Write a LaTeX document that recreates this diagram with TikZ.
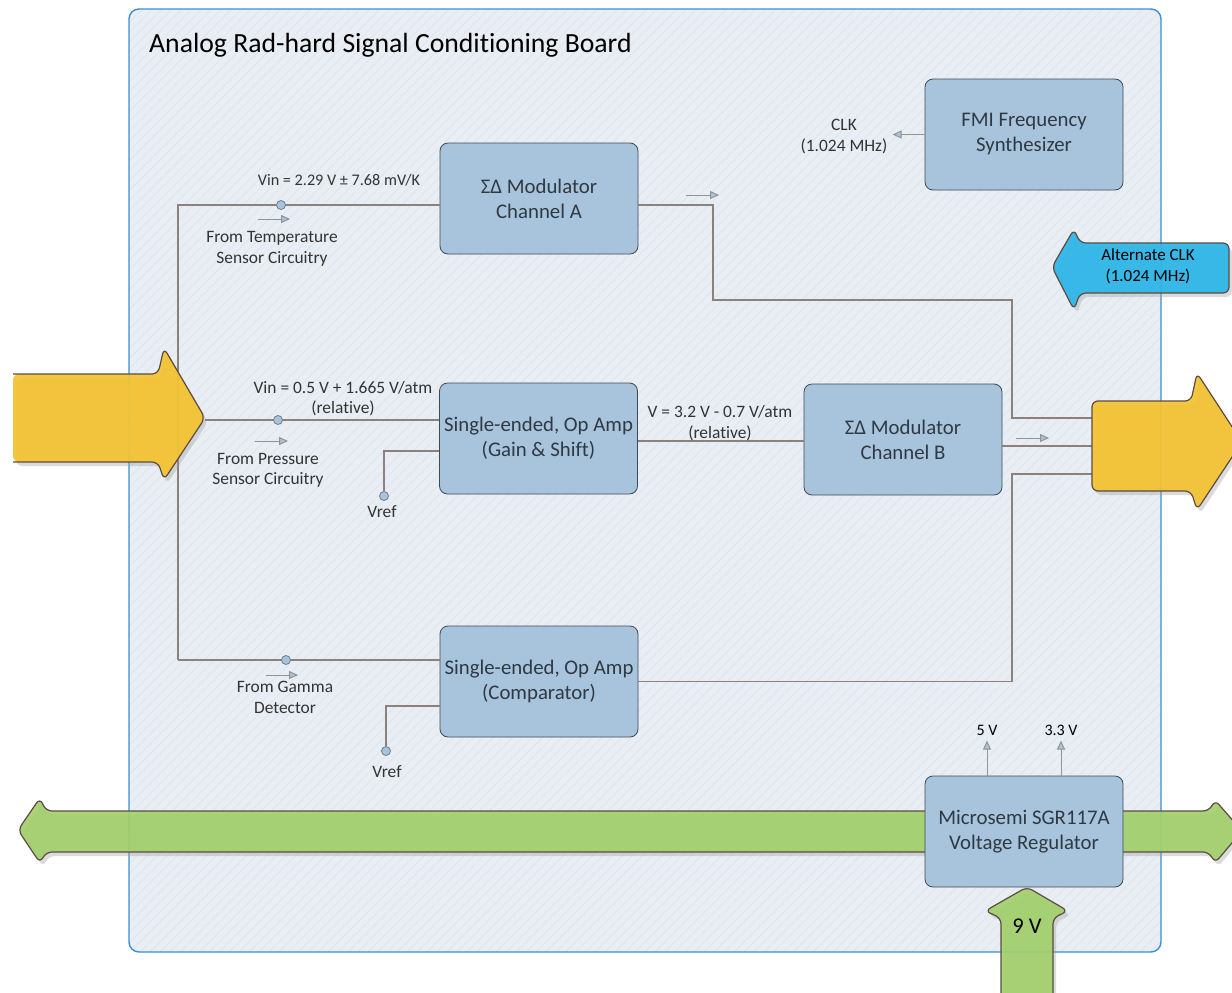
\documentclass[tikz,border=0pt]{standalone}
\usepackage{fontspec}
\setmainfont{Carlito}[Ligatures=NoCommon]
\usetikzlibrary{arrows.meta,patterns.meta,calc}
\definecolor{boardbg}{HTML}{E9EEF5}
\definecolor{hatchc}{HTML}{DDE4ED}
\definecolor{boardln}{HTML}{3A8FD3}
\definecolor{blkfill}{HTML}{A8C4DC}
\definecolor{blkline}{HTML}{3F4A55}
\definecolor{blktext}{HTML}{2F3943}
\definecolor{wirec}{HTML}{8E817C}
\definecolor{txt}{HTML}{333333}
\definecolor{yel}{HTML}{F5C330}
\definecolor{arrline}{HTML}{5C4B42}
\definecolor{cyanA}{HTML}{2BB6E9}
\definecolor{grn}{HTML}{A2D06B}
\definecolor{dotc}{HTML}{A8C4DC}
\definecolor{dotln}{HTML}{6E7E8E}
\definecolor{shadowc}{HTML}{9A9A9A}
\tikzset{
 blk/.style={draw=blkline, fill=blkfill, rounded corners=8pt, minimum width=198pt, minimum height=111pt, align=center, font=\fontsize{20.8}{25}\selectfont, text=blktext, line width=0.8pt},
 wire/.style={draw=wirec, line width=1.2pt},
 lbl/.style={align=center, font=\fontsize{17.4}{20.5}\selectfont, text=txt, inner sep=0pt},
 smalllbl/.style={align=center, font=\fontsize{16}{19}\selectfont, text=black, inner sep=0pt},
 pin/.style={circle, draw=dotln, fill=dotc, minimum size=9pt, inner sep=0pt, line width=0.8pt},
 dirarrow/.style={draw=gray!85, line width=1pt, -{Triangle[length=9pt,width=8pt,fill=dotc]}},
 fat/.style={draw=arrline, line width=1.2pt, rounded corners=6pt, line join=round},
 shade/.style={fill=shadowc, fill opacity=0.35, rounded corners=6pt},
}
\newcommand\fatarrow[2]{%
  \fill[shade, shift={(3,4)}] #2;
  \path[fat, fill=#1, fill opacity=0.92] #2;}
\begin{document}
\begin{tikzpicture}[x=1pt,y=-1pt]
\useasboundingbox (0,0) rectangle (1232,993);
\clip (0,0) rectangle (1232,993);
\fill[white] (0,0) rectangle (1232,993);
% board
\path[fill=boardbg, rounded corners=10pt] (129,9) rectangle (1161,952);
\path[pattern={Lines[angle=45,distance=7pt,line width=0.6pt]}, pattern color=hatchc, rounded corners=10pt] (129,9) rectangle (1161,952);
\draw[boardln, line width=1.4pt, rounded corners=10pt] (129,9) rectangle (1161,952);
\node[anchor=west, font=\fontsize{27.7}{32}\selectfont, inner sep=0pt] (title) at (149,45) {Analog Rad-hard Signal Conditioning Board};

% power bus
\fatarrow{grn}{(18,830) -- (40,798) -- (46,811) -- (1209,811) -- (1215,800) -- (1242,831) -- (1215,863) -- (1209,852) -- (46,852) -- (40,863) -- cycle}

% blocks
\node[blk] (chA) at (539,198.5) {ΣΔ Modulator\\Channel A};
\node[blk] (fmi) at (1024,134.5) {FMI Frequency\\Synthesizer};
\node[blk] (opG) at (538.5,438.5) {Single-ended, Op Amp\\(Gain \& Shift)};
\node[blk] (chB) at (903,439.5) {ΣΔ Modulator\\Channel B};
\node[blk] (opC) at (539,681.5) {Single-ended, Op Amp\\(Comparator)};
\node[blk] (reg) at (1024,831.5) {Microsemi SGR117A\\Voltage Regulator};

% input wiring
\coordinate (pIn) at (205,420);
\coordinate (tTop) at (178,205);
\coordinate (tBot) at (178,660);
\draw[wire] (tBot) -- (tTop) -- (tTop -| chA.west);
\draw[wire] (tBot) -- (tBot -| opC.west);
\draw[wire] (pIn) -- (pIn -| opG.west);
\node[pin] (d1) at (281,205) {};
\node[pin] (d2) at (278,420) {};
\node[pin] (d3) at (286,660) {};
% vrefs
\coordinate (v1) at (384,451);
\coordinate (v2) at (386,706);
\node[pin] (vr1) at (384,496) {};
\node[pin] (vr2) at (386,751) {};
\draw[wire] (v1 -| opG.west) -- (v1) -- (vr1);
\draw[wire] (v2 -| opC.west) -- (v2) -- (vr2);
\node[lbl] (vrl1) at (382,512) {Vref};
\node[lbl] (vrl2) at (387,772) {Vref};

% middle
\coordinate (mid) at (720,441);
\draw[wire] (mid -| opG.east) -- (mid -| chB.west);

% outputs
\coordinate (rA) at (1092,418);
\coordinate (rB) at (1092,446);
\coordinate (rC) at (1092,474);
\coordinate (bendA) at (713,300);
\draw[wire] ([yshift=-6.5pt]chA.east) -| (bendA) -| (1012,418) -- (rA);
\draw[wire] (rB -| chB.east) -- (rB);
\draw[wire] (opC.east) -| (1012,474) -- (rC);

% labels
\node[lbl, font=\fontsize{16.2}{20.5}\selectfont] (l1) at (339,180) {Vin = 2.29 V ± 7.68 mV/K};
\node[lbl] (l2) at (272,249) {From Temperature\\Sensor Circuitry};
\node[lbl] (l3) at (343,398.5) {Vin = 0.5 V + 1.665 V/atm\\(relative)};
\node[lbl] (l4) at (268,470.5) {From Pressure\\Sensor Circuitry};
\node[lbl] (l5) at (285,697.5) {From Gamma\\Detector};
\node[lbl] (l6) at (720,423) {V = 3.2 V - 0.7 V/atm\\(relative)};
\node[lbl] (l7) at (844,136.5) {CLK\\(1.024 MHz)};

% direction indicators
\draw[dirarrow] (258,219) -- (290,219);
\draw[dirarrow] (686,195) -- (719,195);
\draw[dirarrow] (255,441) -- (288,441);
\draw[dirarrow] (266,675) -- (298,675);
\draw[dirarrow] (1016,438) -- (1049,438);
\draw[dirarrow] (fmi.west) -- ++(-32,0);
\draw[dirarrow] ([xshift=-37pt]reg.north) -- ++(0,-35) coordinate (o5);
\draw[dirarrow] ([xshift=37pt]reg.north) -- ++(0,-35) coordinate (o33);
\node[smalllbl] (l8) at (987,730) {5 V};
\node[smalllbl] (l9) at (1061,730) {3.3 V};

% big arrows
\fill[shade, shift={(3,4)}] (13,374) -- (158,374) -- (164,348) -- (205,418) -- (164,480) -- (158,462) -- (13,462) -- cycle;
\fill[yel, fill opacity=0.92, rounded corners=6pt] (13,374) -- (158,374) -- (164,348) -- (205,418) -- (164,480) -- (158,462) -- (13,462) -- cycle;
\draw[fat] (13,374) -- (158,374) -- (164,348) -- (205,418) -- (164,480) -- (158,462) -- (13,462);
\fatarrow{yel}{(1092,401) -- (1191,401) -- (1197,373) -- (1242,442) -- (1197,510) -- (1191,491) -- (1092,491) -- cycle}
\fatarrow{cyanA}{(1229,243) -- (1080,243) -- (1074,229) -- (1052,267) -- (1074,310) -- (1080,293) -- (1229,293) -- cycle}
\node[smalllbl, font=\fontsize{17}{21}\selectfont] (alt) at (1148,266.5) {Alternate CLK\\(1.024 MHz)};
\fatarrow{grn}{(1001,1000) -- (1001,918) -- (985,911) -- (1027,887) -- (1068,911) -- (1053,918) -- (1053,1000)}
\node[font=\fontsize{22.5}{26}\selectfont, inner sep=0pt] (nine) at (1027,926) {9 V};
\end{tikzpicture}
\end{document}
